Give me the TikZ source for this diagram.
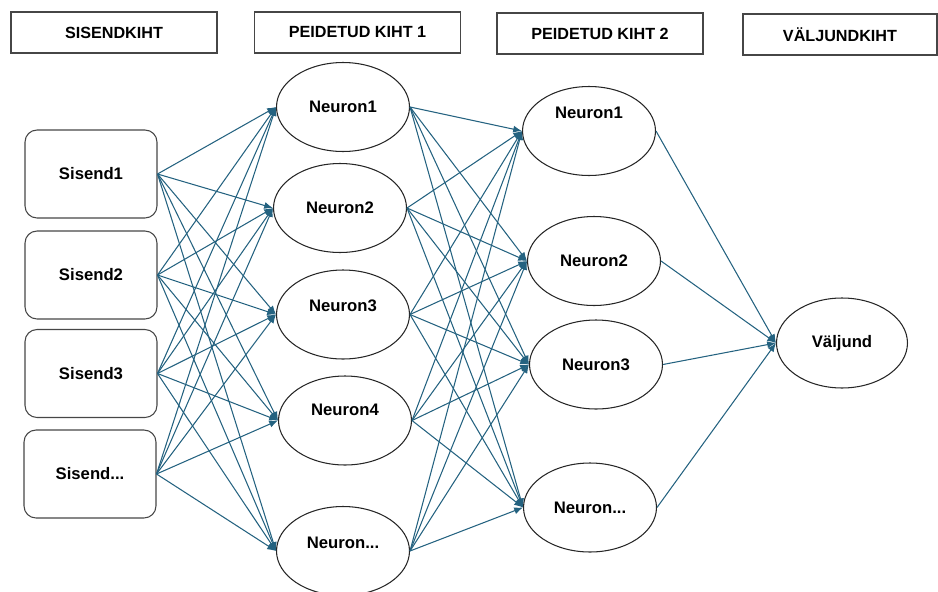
\documentclass[tikz,border=0pt]{standalone}
\usepackage{fontspec}
\setmainfont{Liberation Sans}
\usetikzlibrary{shapes.geometric,arrows.meta}
\definecolor{linkblue}{RGB}{36,98,128}
\definecolor{edgegray}{RGB}{70,70,70}

\begin{document}
\begin{tikzpicture}[x=0.02cm, y=-0.02cm,
  header/.style={draw=edgegray, line width=0.6pt, minimum width=4.12cm, minimum height=0.82cm, font=\bfseries\fontsize{9.2}{11}\selectfont},
  inbox/.style={draw=edgegray, rounded corners=0.24cm, line width=0.6pt, minimum width=2.64cm, minimum height=1.76cm, font=\bfseries\fontsize{9.5}{11}\selectfont},
  neuron/.style={ellipse, draw=black!85, line width=0.6pt, minimum width=2.66cm, minimum height=1.78cm, inner sep=0pt, font=\bfseries\fontsize{9.5}{11}\selectfont},
  every label/.style={font=\bfseries\fontsize{9.5}{11}\selectfont},
  link/.style={draw=linkblue, line width=0.6pt, -{Latex[length=5pt,width=4pt]}}]
  \useasboundingbox (0,0) rectangle (938,592);

  % layer titles
  \node[header] (t1) at (114,32.5) {SISENDKIHT};
  \node[header] (t2) at (357.5,32.5) {PEIDETUD KIHT 1};
  \node[header] (t3) at (600,33.5) {PEIDETUD KIHT 2};
  \node[header, minimum width=3.88cm] (t4) at (840,34.5) {VÄLJUNDKIHT};

  % input layer
  \node[inbox] (s1) at (91,174) {Sisend1};
  \node[inbox] (s2) at (91,275) {Sisend2};
  \node[inbox] (s3) at (91,373.5) {Sisend3};
  \node[inbox] (s4) at (90,474) {Sisend...};

  % hidden layer 1
  \node[neuron] (h11) at (343,107) {Neuron1};
  \node[neuron] (h12) at (340,208) {Neuron2};
  \node[neuron, label={[yshift=0.18cm]center:Neuron3}] (h13) at (343,314.5) {};
  \node[neuron, label={[yshift=0.22cm]center:Neuron4}] (h14) at (345,420.5) {};
  \node[neuron, label={[yshift=0.16cm]center:Neuron...}] (h15) at (343,551) {};

  % hidden layer 2
  \node[neuron, label={[yshift=0.36cm]center:Neuron1}] (h21) at (589,131) {};
  \node[neuron] (h22) at (594,261) {Neuron2};
  \node[neuron] (h23) at (596,364.5) {Neuron3};
  \node[neuron] (h24) at (590,507.5) {Neuron...};

  % output layer
  \node[neuron, minimum width=2.62cm, minimum height=1.8cm] (o1) at (842,343) {Väljund};

  % input -> hidden 1
  \draw[link] (s1.east) -- (h11.west);
  \draw[link] (s1.east) -- (h12.west);
  \draw[link] (s1.east) -- (h13.west);
  \draw[link] (s1.east) -- (h14.west);
  \draw[link] (s1.east) -- (h15.west);
  \draw[link] (s2.east) -- (h11.west);
  \draw[link] (s2.east) -- (h12.west);
  \draw[link] (s2.east) -- (h13.west);
  \draw[link] (s2.east) -- (h14.west);
  \draw[link] (s2.east) -- (h15.west);
  \draw[link] (s3.east) -- (h11.west);
  \draw[link] (s3.east) -- (h12.west);
  \draw[link] (s3.east) -- (h13.west);
  \draw[link] (s3.east) -- (h14.west);
  \draw[link] (s3.east) -- (h15.west);
  \draw[link] (s4.east) -- (h11.west);
  \draw[link] (s4.east) -- (h12.west);
  \draw[link] (s4.east) -- (h13.west);
  \draw[link] (s4.east) -- (h14.west);
  \draw[link] (s4.east) -- (h15.west);

  % hidden 1 -> hidden 2
  \draw[link] (h11.east) -- (h21.west);
  \draw[link] (h11.east) -- (h22.west);
  \draw[link] (h11.east) -- (h23.west);
  \draw[link] (h11.east) -- (h24.west);
  \draw[link] (h12.east) -- (h21.west);
  \draw[link] (h12.east) -- (h22.west);
  \draw[link] (h12.east) -- (h23.west);
  \draw[link] (h12.east) -- (h24.west);
  \draw[link] (h13.east) -- (h21.west);
  \draw[link] (h13.east) -- (h22.west);
  \draw[link] (h13.east) -- (h23.west);
  \draw[link] (h13.east) -- (h24.west);
  \draw[link] (h14.east) -- (h21.west);
  \draw[link] (h14.east) -- (h22.west);
  \draw[link] (h14.east) -- (h23.west);
  \draw[link] (h14.east) -- (h24.west);
  \draw[link] (h15.east) -- (h21.west);
  \draw[link] (h15.east) -- (h22.west);
  \draw[link] (h15.east) -- (h23.west);
  \draw[link] (h15.east) -- (h24.west);

  % hidden 2 -> output
  \draw[link] (h21.east) -- (o1.west);
  \draw[link] (h22.east) -- (o1.west);
  \draw[link] (h23.east) -- (o1.west);
  \draw[link] (h24.east) -- (o1.west);
\end{tikzpicture}
\end{document}
